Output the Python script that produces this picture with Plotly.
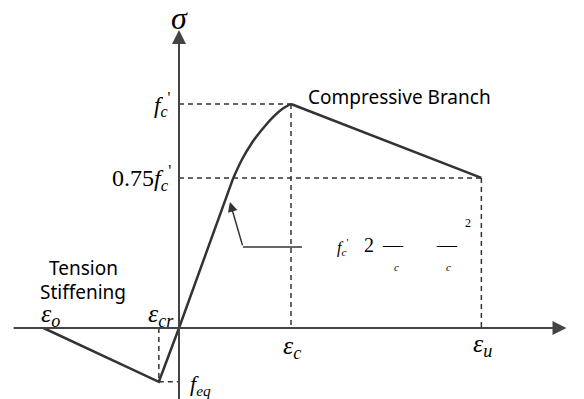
import plotly.graph_objects as go

# schematic units: strain scaled by eps_c, stress scaled by f'c
eps_o, eps_cr, eps_c, eps_u = -1.21, -0.18, 1.0, 2.70
f_c, f_75, f_eq = 1.0, 0.67, -0.24

tension_strain = [eps_o, eps_cr, 0.0, 0.485]
tension_stress = [0.0, f_eq, 0.0, f_75]
rise_strain = [0.485, 0.56, 0.649, 0.738, 0.842, 0.931, 1.0]
rise_stress = [0.67, 0.75, 0.825, 0.884, 0.943, 0.981, 1.0]
fall_strain = [eps_c, eps_u]
fall_stress = [f_c, f_75]

LINE = '#333333'
AXIS = '#444444'
SERIF = 'Liberation Serif'
SANS = 'Noto Sans'

fig = go.Figure()
fig.add_trace(go.Scatter(x=tension_strain, y=tension_stress, mode='lines',
                         line=dict(color=LINE, width=2.5)))
fig.add_trace(go.Scatter(x=rise_strain, y=rise_stress, mode='lines',
                         line=dict(color=LINE, width=2.5, shape='spline', smoothing=0.8)))
fig.add_trace(go.Scatter(x=fall_strain, y=fall_stress, mode='lines',
                         line=dict(color=LINE, width=2.5)))

# dashed guides
dash = dict(color=LINE, width=1.5, dash='5px,4px')
guides = [
    (0, f_c, eps_c, f_c), (eps_c, f_c, eps_c, 0),
    (0, f_75, eps_u, f_75), (eps_u, f_75, eps_u, 0),
    (eps_cr, 0, eps_cr, f_eq), (eps_cr, f_eq, 0, f_eq),
]
for x0, y0, x1, y1 in guides:
    fig.add_shape(type='line', x0=x0, y0=y0, x1=x1, y1=y1, line=dash, layer='below')

# axes with arrows
fig.add_annotation(x=3.46, y=0, ax=-1.49, ay=0, axref='x', ayref='y', text='',
                   showarrow=True, arrowhead=2, arrowsize=1.4, arrowwidth=2, arrowcolor=AXIS)
fig.add_annotation(x=0, y=1.33, ax=0, ay=-0.36, axref='x', ayref='y', text='',
                   showarrow=True, arrowhead=2, arrowsize=1.4, arrowwidth=2, arrowcolor=AXIS)

# pointer to the parabola
fig.add_shape(type='line', x0=0.571, y0=0.362, x1=1.098, y1=0.362,
              line=dict(color=LINE, width=1.5))
fig.add_annotation(x=0.455, y=0.5625, ax=0.571, ay=0.362, axref='x', ayref='y', text='',
                   showarrow=True, arrowhead=2, arrowsize=1.3, arrowwidth=1.5, arrowcolor=LINE)


def label(x, y, text, size=22, family=SERIF, xanchor='center'):
    fig.add_annotation(x=x, y=y, text=text, showarrow=False, xanchor=xanchor,
                       yanchor='middle', font=dict(family=family, size=size, color='black'))


label(0, 1.384, '<i>σ</i>', size=32)
label(-0.05, f_c, "<i>f<sub>c</sub></i><sup>'</sup>", size=23, xanchor='right')
label(-0.05, f_75, "0.75<i>f<sub>c</sub></i><sup>'</sup>", size=24, xanchor='right')
label(1.134, 1.031, 'Compressive Branch', size=19, family=SANS, xanchor='left')
label(-0.857, 0.268, 'Tension', size=19, family=SANS)
label(-0.86, 0.161, 'Stiffening', size=19, family=SANS)
label(eps_o + 0.06, 0.06, '<i>ε<sub>o</sub></i>', size=26)
label(eps_cr + 0.02, 0.06, '<i>ε<sub>cr</sub></i>', size=26)
label(eps_c + 0.01, -0.085, '<i>ε<sub>c</sub></i>', size=26)
label(eps_u + 0.01, -0.075, '<i>ε<sub>u</sub></i>', size=26)
label(0.19, -0.255, '<i>f<sub>eq</sub></i>', size=22)
label(3.6, 0.0, '<i>ε</i>', size=30)

# the formula, as it appears (partially rendered)
label(1.46, 0.362, "<i>f<sub>c</sub></i><sup>'</sup>", size=16)
label(1.696, 0.372, '2', size=20)
label(1.911, 0.37, '—', size=20)
label(1.946, 0.272, '<i>c</i>', size=11)
label(2.393, 0.37, '—', size=20)
label(2.41, 0.272, '<i>c</i>', size=11)
label(2.58, 0.469, '2', size=12)

# ranges offset by the 8px page margin of the written html
fig.update_layout(
    width=584, height=399,
    margin=dict(l=0, r=0, t=0, b=0),
    paper_bgcolor='white', plot_bgcolor='white',
    showlegend=False,
    xaxis=dict(range=[-1.527, 3.688], visible=False, fixedrange=True),
    yaxis=dict(range=[-0.3527, 1.4286], visible=False, fixedrange=True),
)

fig.write_html("out.html")
